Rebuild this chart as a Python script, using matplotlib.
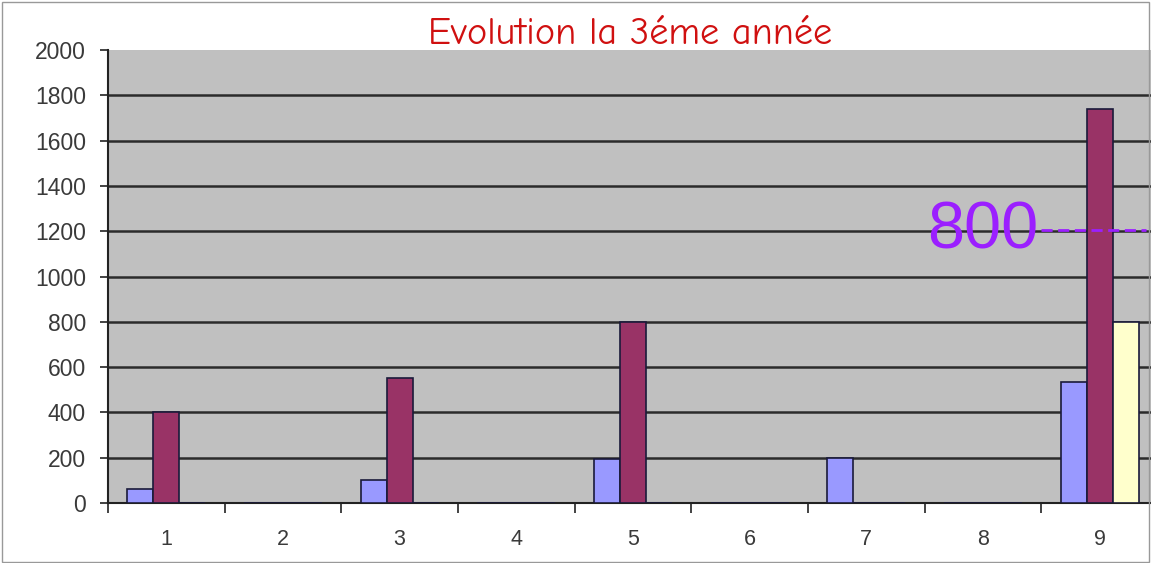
import matplotlib.pyplot as plt
import numpy as np

# data
categories = [1, 2, 3, 4, 5, 6, 7, 8, 9]
serie_bleue = [60, 0, 100, 0, 195, 0, 200, 0, 535]
serie_bordeaux = [400, 0, 550, 0, 800, 0, 0, 0, 1740]
serie_jaune = [0, 0, 0, 0, 0, 0, 0, 0, 800]
y_ticks = [0, 200, 400, 600, 800, 1000, 1200, 1400, 1600, 1800, 2000]

plt.rcParams['font.family'] = ['Liberation Sans', 'DejaVu Sans']

fig = plt.figure(figsize=(11.51, 5.63), dpi=100)
fig.patch.set_facecolor('white')
ax = fig.add_axes([108 / 1151, 60 / 563, 1050 / 1151, 453 / 563])
ax.set_facecolor('#C0C0C0')

x = np.arange(len(categories)) + 1
w = 0.222
kw = dict(edgecolor='#1a1a3a', linewidth=1.2, zorder=3)
ax.bar(x - w, serie_bleue, w, color='#9999FF', **kw)
ax.bar(x, serie_bordeaux, w, color='#993366', **kw)
ax.bar(x + w, serie_jaune, w, color='#FFFFCC', **kw)

# Excel style grid
for v in y_ticks[1:-1]:
    ax.axhline(v, color='#2b2b2b', linewidth=1.8, zorder=2)

ax.set_xlim(0.5, 9.5)
ax.set_ylim(0, 2000)
ax.set_yticks(y_ticks)
ax.set_yticklabels([str(v) for v in y_ticks], fontsize=16.5, color='#3a3a3a')
ax.set_xticks(np.arange(0.5, 10, 1))
ax.set_xticklabels([])
ax.set_xticks(x, minor=True)
ax.set_xticklabels([str(c) for c in categories], minor=True, fontsize=15.5, color='#3a3a3a')
ax.tick_params(axis='x', which='major', length=7, width=1.2, color='#222222', direction='out')
ax.tick_params(axis='x', which='minor', length=0, pad=19)
ax.tick_params(axis='y', length=6, width=1.2, color='#222222', pad=10)

for s in ['top', 'right']:
    ax.spines[s].set_visible(False)
for s in ['left', 'bottom']:
    ax.spines[s].set_color('#222222')
    ax.spines[s].set_linewidth(1.5)

fig.text(630 / 1151, 1 - 44 / 563, 'Evolution la 3éme année', color='#D01010',
         fontsize=27.5, ha='center', va='baseline', family=['Comic Neue', 'Lato', 'DejaVu Sans'])

# annotation on the last category
ax.text(8.0, 1200, '800', color='#9B1FFF', fontsize=48, ha='center', va='center', zorder=5)
ax.plot([8.5, 9.4], [1205, 1205], color='#9B1FFF', linewidth=2, linestyle=(0, (4, 2)), zorder=5)

# thin frame around the chart
fig.add_artist(plt.Rectangle((0.002, 0.002), 0.996, 0.994, transform=fig.transFigure,
                             fill=False, edgecolor='#999999', linewidth=1))

fig.savefig('out.png', dpi=100)
